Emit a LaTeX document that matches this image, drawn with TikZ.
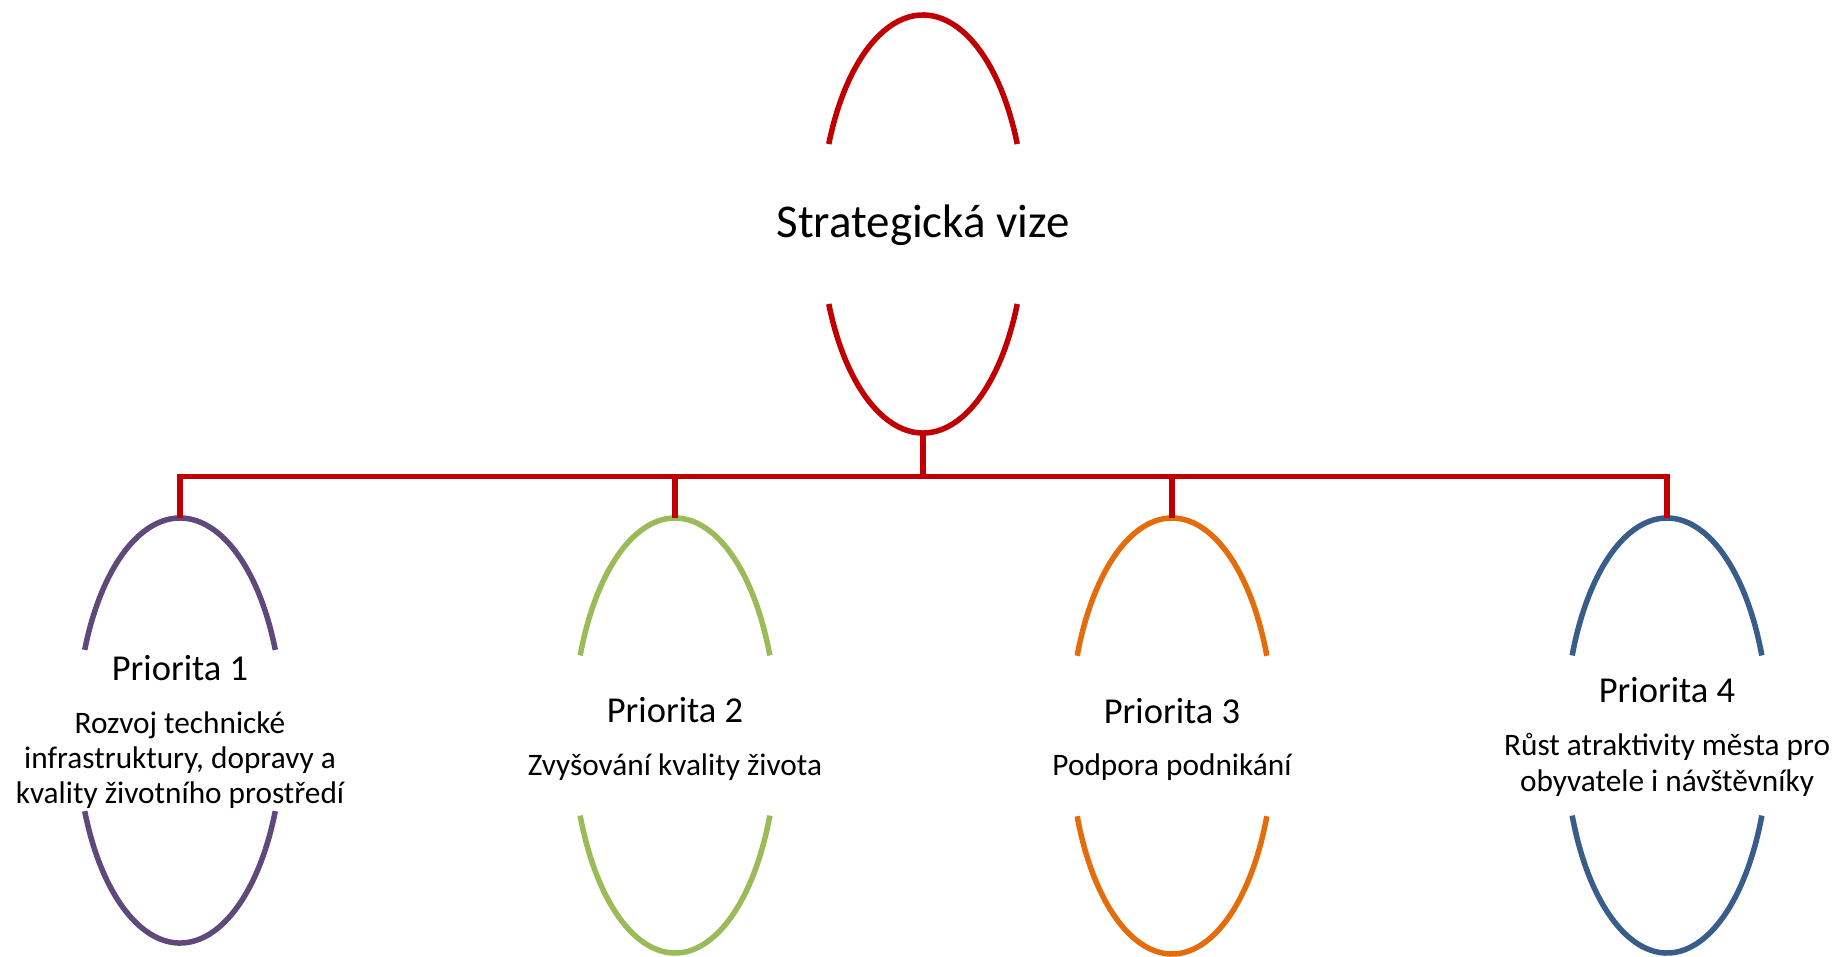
\documentclass[tikz,border=0pt]{standalone}
\usepackage{fontspec}
\setmainfont{Carlito}
\definecolor{vred}{HTML}{C00000}
\definecolor{vpurple}{HTML}{5F497A}
\definecolor{vgreen}{HTML}{9BBB59}
\definecolor{vorange}{HTML}{E46C0A}
\definecolor{vblue}{HTML}{385D8A}
\newcommand\gapellipse[5]{% color, center, rx, ry, angle
  \draw[#1] (#2) ++(#5:#3 and #4) arc[start angle=#5, end angle=180-#5, x radius=#3, y radius=#4];
  \draw[#1] (#2) ++(180+#5:#3 and #4) arc[start angle=180+#5, end angle=360-#5, x radius=#3, y radius=#4];
}
\begin{document}
\begin{tikzpicture}[x=1pt,y=-1pt, line width=5.5pt,
  lbl/.style={inner sep=0pt, anchor=base, text=black},
  title/.style={lbl, font=\fontsize{47}{52}\selectfont},
  head/.style={lbl, font=\fontsize{36.5}{40}\selectfont},
  body/.style={lbl, font=\fontsize{31.3}{35}\selectfont},
  conn/.style={draw=vred, line join=miter}]
\useasboundingbox (0,0) rectangle (1838,956);
% ellipse centres, tops and bottoms
\coordinate (v)  at (923,224);
\coordinate (vb) at (923,433);
\coordinate (p1) at (180,730.5);
\coordinate (p1t) at (180,518);
\coordinate (p2) at (675,735.5);
\coordinate (p2t) at (675,518);
\coordinate (p3) at (1172,736);
\coordinate (p3t) at (1172,518);
\coordinate (p4) at (1667,735.5);
\coordinate (p4t) at (1667,518);
% ellipses with gaps
\gapellipse{vred}{v}{102pt}{209pt}{22.5}
\gapellipse{vpurple}{p1}{103pt}{212.5pt}{22.3}
\gapellipse{vgreen}{p2}{102pt}{217.5pt}{21.6}
\gapellipse{vorange}{p3}{102pt}{218pt}{21.6}
\gapellipse{vblue}{p4}{102pt}{217.5pt}{21.6}
% connectors
\draw[conn] (vb) -- ++(0,43.5) -| (p1t);
\draw[conn] (vb) -- ++(0,43.5) -| (p2t);
\draw[conn] (vb) -- ++(0,43.5) -| (p3t);
\draw[conn] (vb) -- ++(0,43.5) -| (p4t);
% texts
\node[title] (tv) at (923,237) {Strategická vize};
\node[head] (h1) at (180,680) {Priorita 1};
\node[body] (b1a) at (180,733) {Rozvoj technické};
\node[body] (b1b) at (180,768) {infrastruktury, dopravy a};
\node[body] (b1c) at (180,803) {kvality životního prostředí};
\node[head] (h2) at (675,722) {Priorita 2};
\node[body] (b2a) at (675,775) {Zvyšování kvality života};
\node[head] (h3) at (1172,723) {Priorita 3};
\node[body] (b3a) at (1172,775) {Podpora podnikání};
\node[head] (h4) at (1667,702) {Priorita 4};
\node[body] (b4a) at (1667,755) {Růst atraktivity města pro};
\node[body] (b4b) at (1667,791) {obyvatele i návštěvníky};
\end{tikzpicture}
\end{document}
